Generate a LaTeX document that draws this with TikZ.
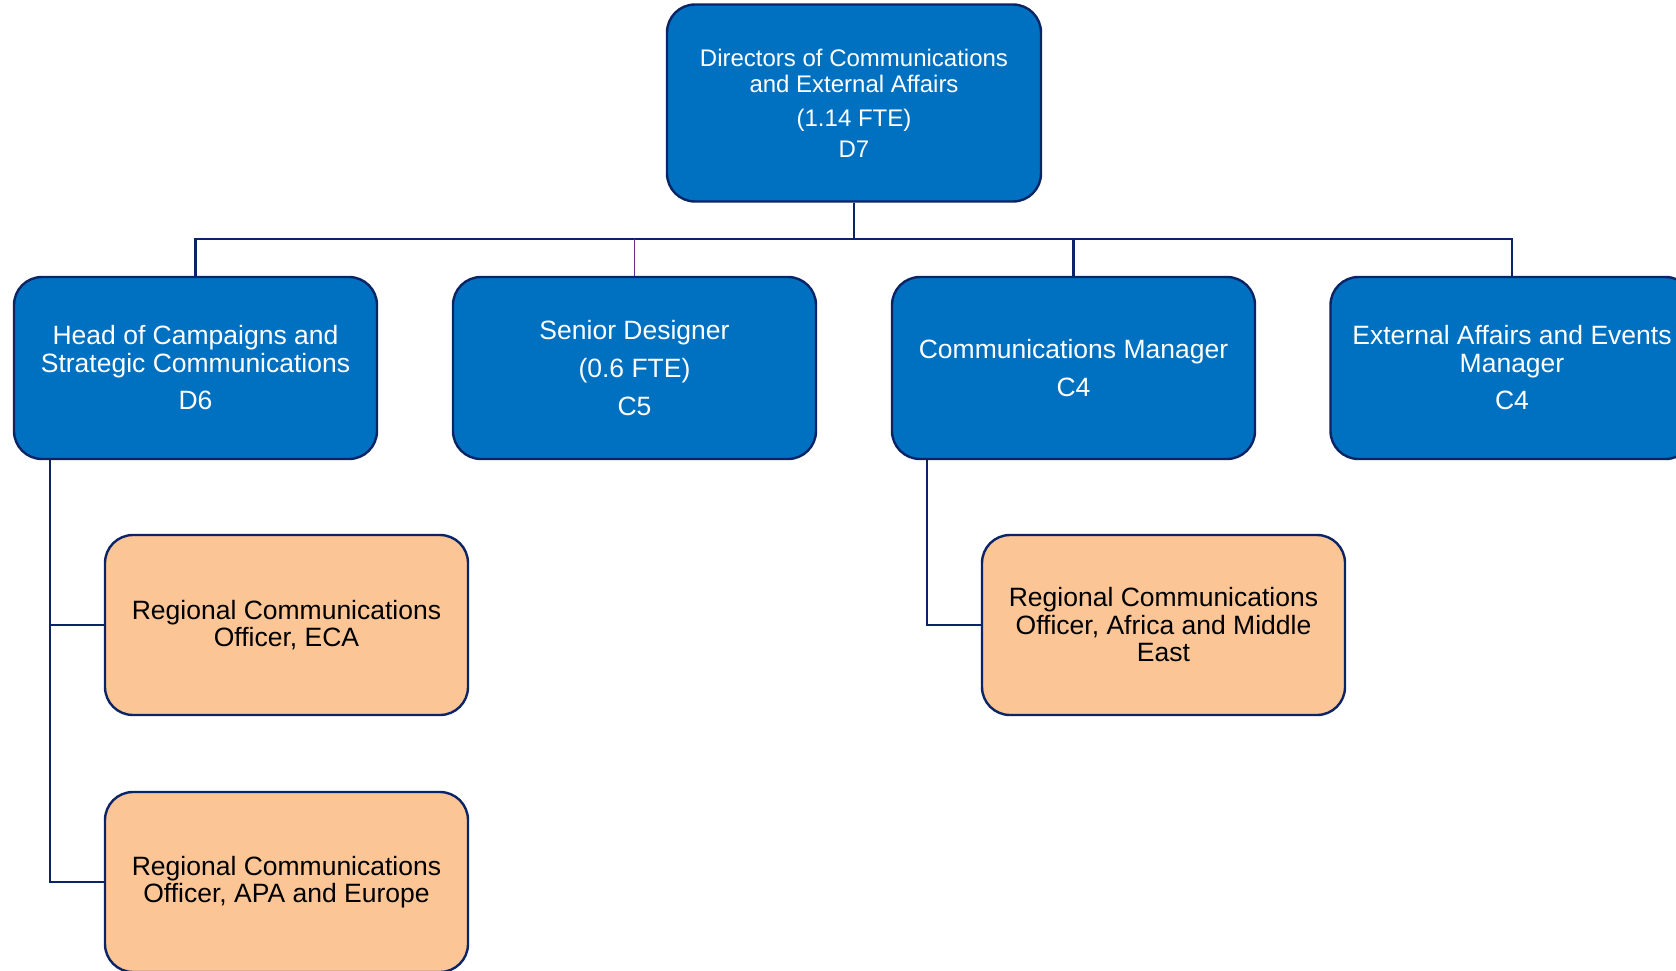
\documentclass[tikz,border=0pt]{standalone}
\usepackage{fontspec}
\setmainfont{Liberation Sans}
\definecolor{boxblue}{HTML}{0070C0}
\definecolor{navy}{HTML}{0B2466}
\definecolor{peach}{HTML}{FBC596}
\definecolor{purp}{HTML}{6E2C82}
\begin{document}
\begin{tikzpicture}[x=1pt,y=-1pt,
  box/.style={draw=navy,line width=2.4pt,rounded corners=28pt,inner sep=0pt,align=center},
  bluebox/.style={box,fill=boxblue,text=white,minimum width=363pt,minimum height=182pt,font=\fontsize{26.5}{28}\selectfont},
  topbox/.style={box,fill=boxblue,text=white,minimum width=374pt,minimum height=197pt,font=\fontsize{24}{26}\selectfont},
  orangebox/.style={box,fill=peach,text=black,minimum width=363pt,minimum height=180pt,font=\fontsize{26.5}{27.5}\selectfont},
  conn/.style={draw=navy,line width=2.6pt},
  pconn/.style={draw=purp,line width=1.8pt}]
\useasboundingbox (0,0) rectangle (1676,971);
\node[topbox] (top) at (854,103) {Directors of Communications\\and External Affairs\\[8pt](1.14 FTE)\\[5pt]D7};
\node[bluebox] (b1) at (195.5,368) {Head of Campaigns and\\Strategic Communications\\[9pt]D6};
\node[bluebox] (b2) at (634.5,368) {Senior Designer\\[10.5pt](0.6 FTE)\\[10pt]C5};
\node[bluebox] (b3) at (1073.5,368) {Communications Manager\\[10pt]C4};
\node[bluebox] (b4) at (1512,368) {External Affairs and Events\\Manager\\[9pt]C4};
\node[orangebox] (o1) at (286.5,625) {Regional Communications\\Officer, ECA};
\node[orangebox] (o2) at (286.5,882) {Regional Communications\\Officer, APA and Europe};
\node[orangebox] (o3) at (1163.5,625) {Regional Communications\\Officer, Africa and Middle\\East};
\coordinate (bus) at (854,239);
\draw[conn] (top.south) -- (bus);
\draw[conn] (b1.north) |- (bus) -| (b4.north);
\draw[conn] (b3.north) -- (b3.north |- bus);
\draw[pconn] (b2.north) -- (b2.north |- bus);
\coordinate (lt) at ([xshift=37pt]b1.south west);
\draw[conn] (lt) |- (o1.west);
\draw[conn] (lt) |- (o2.west);
\coordinate (rt) at ([xshift=36pt]b3.south west);
\draw[conn] (rt) |- (o3.west);
\end{tikzpicture}
\end{document}
